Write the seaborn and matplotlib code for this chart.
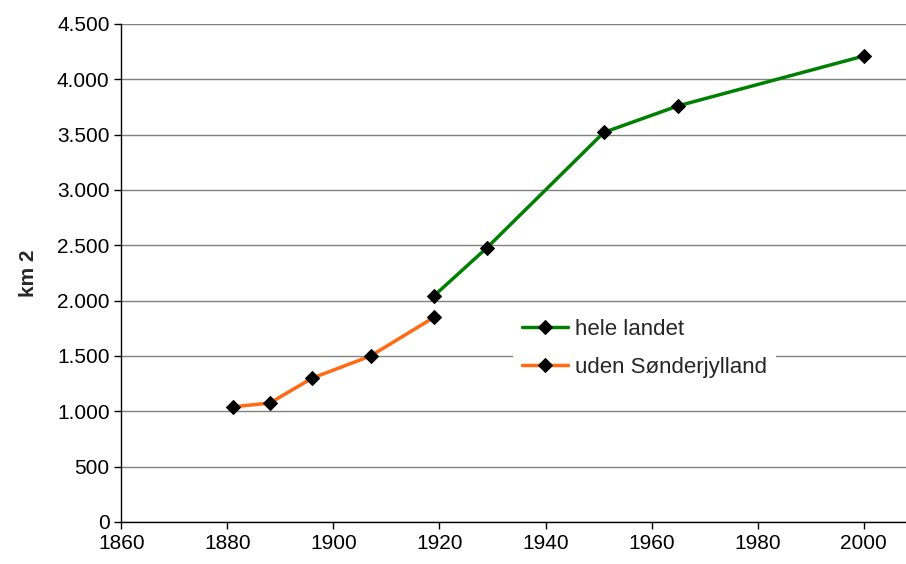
"""Areal over tid: hele landet og uden Sønderjylland."""
import matplotlib.pyplot as plt
import matplotlib.ticker as mticker
import pandas as pd
import seaborn as sns

sns.set_style("white")
plt.rcParams["font.family"] = ["Liberation Sans", "DejaVu Sans"]

aar_uden = [1881, 1888, 1896, 1907, 1919]
km2_uden = [1040, 1075, 1300, 1500, 1850]

aar_hele = [1919, 1929, 1951, 1965, 2000]
km2_hele = [2045, 2480, 3520, 3760, 4210]

serie_navne = ["hele landet", "uden Sønderjylland"]
farver = {"hele landet": "#008000", "uden Sønderjylland": "#ff6a13"}

df = pd.concat([
    pd.DataFrame({"aar": aar_hele, "km2": km2_hele, "serie": serie_navne[0]}),
    pd.DataFrame({"aar": aar_uden, "km2": km2_uden, "serie": serie_navne[1]}),
])

fig = plt.figure(figsize=(9.06, 5.64), dpi=100)
ax = fig.add_axes([0.134, 0.0745, 0.866, 0.883])

sns.lineplot(data=df, x="aar", y="km2", hue="serie", palette=farver,
             hue_order=serie_navne, marker="D", markersize=7,
             markerfacecolor="black", markeredgecolor="black",
             linewidth=2.5, ax=ax)

ax.set_xlim(1860, 2008)
ax.set_ylim(0, 4500)
ax.set_xticks(range(1860, 2001, 20))
ax.set_yticks(range(0, 4501, 500))
ax.yaxis.set_major_formatter(
    mticker.FuncFormatter(lambda v, p: f"{int(v):,}".replace(",", ".")))
ax.yaxis.grid(True, color="#808080", linewidth=1)
ax.set_axisbelow(True)

for side in ["top", "right"]:
    ax.spines[side].set_visible(False)
for side in ["left", "bottom"]:
    ax.spines[side].set_color("black")
    ax.spines[side].set_linewidth(1)

ax.tick_params(axis="both", direction="out", length=5, width=1,
               colors="black", labelsize=15, left=True, bottom=True)
ax.set_xlabel("")
ax.set_ylabel("km 2", fontsize=15, fontweight="bold", labelpad=14)

leg = ax.legend(loc="upper left", bbox_to_anchor=(0.499, 0.425), frameon=True,
                fontsize=16, handlelength=2.1, handletextpad=0.3,
                labelspacing=0.75, borderaxespad=0)
leg.get_frame().set_facecolor("white")
leg.get_frame().set_edgecolor("none")
leg.get_frame().set_alpha(1)

fig.savefig("out.png", dpi=100)
